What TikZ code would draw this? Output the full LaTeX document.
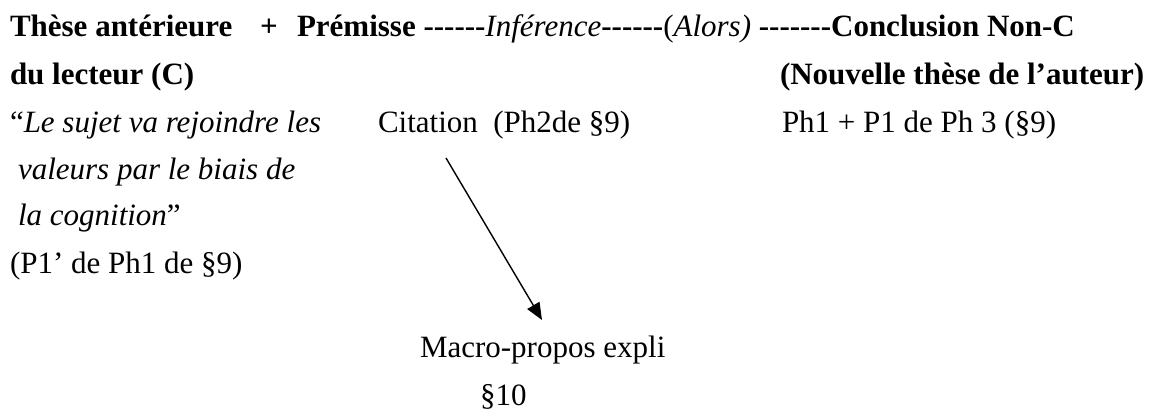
\documentclass[tikz,border=0pt]{standalone}
\usepackage{fontspec}
% plain hyphens: keep runs of "-" from turning into dashes
\setmainfont{Liberation Serif}[Ligatures=TeXOff]
\usetikzlibrary{arrows.meta}
\begin{document}
\begin{tikzpicture}[x=1pt,y=-1pt,
  txt/.style={anchor=base west,inner sep=0pt,outer sep=0pt,font=\fontsize{31}{37}\selectfont},
  hd/.style={txt,font=\fontsize{31}{37}\selectfont\bfseries},
  link/.style={line width=1.4pt,-{Triangle[length=17pt,width=14pt]}}]
\useasboundingbox (0,0) rectangle (1151,417);

% heading row: thesis, premise, inference, conclusion
\node[hd] (these) at (10,37) {Thèse antérieure};
\node[hd] (plus) at (260,37) {+};
\node[hd] (chain) at (297,37) {Prémisse ------{\normalfont\itshape Inférence}------{\normalfont(\textit{Alors)}} -------Conclusion Non-C};
\node[hd] (lecteur) at (10,85) {du lecteur (C)};
\node[hd] (nouvelle) at (780,85) {(Nouvelle thèse de l’auteur)};

% left column: the reader's thesis
\node[txt] (q1) at (10,133) {“\textit{Le sujet va rejoindre les}};
\node[txt] (q2) at (18,179) {\textit{valeurs par le biais de}};
\node[txt] (q3) at (18,225) {\textit{la cognition}”};
\node[txt] (src) at (10,273) {(P1’ de Ph1 de §9)};

% middle column: premise and its macro-proposition
\node[txt] (cit) at (378,133) {Citation\ \ (Ph2de §9)};
\node[txt] (macro) at (420,357) {Macro-propos expli};
\node[txt] (par) at (480,405) {§10};

% right column: conclusion
\node[txt] (ph1) at (782,133) {Ph1 + P1 de Ph 3 (§9)};

% arrow from the quotation down to the macro-proposition
\coordinate (from) at ([shift={(68,25)}]cit.base west);
\coordinate (to) at ([shift={(122,-37)}]macro.base west);
\draw[link] (from) -- (to);
\end{tikzpicture}
\end{document}
